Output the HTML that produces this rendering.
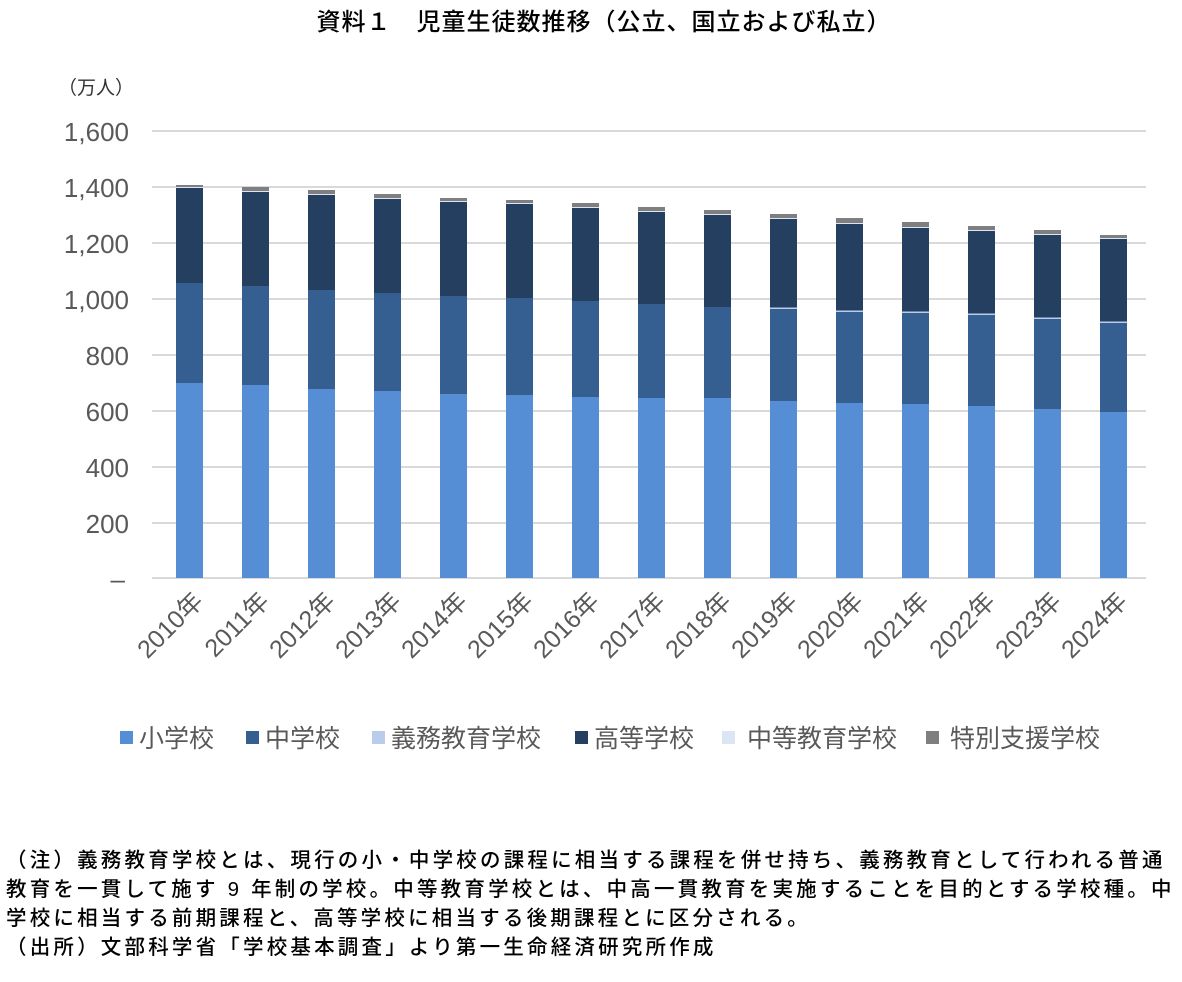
<!DOCTYPE html><html><head><meta charset="utf-8"><style>
body{margin:0;background:#fff;width:1182px;height:982px;overflow:hidden;font-family:"Liberation Sans","Noto Sans CJK JP",sans-serif}
.note{position:absolute;left:6px;top:846px;font-size:20.5px;line-height:29px;color:#000;white-space:nowrap;font-weight:500;letter-spacing:3.2px}
</style></head><body>
<svg width="1182" height="982" style="position:absolute;left:0;top:0" font-family="Liberation Sans, Noto Sans CJK JP, sans-serif">
<text x="604" y="30" text-anchor="middle" font-size="24" font-weight="500" fill="#000" letter-spacing="1">資料１　児童生徒数推移（公立、国立および私立）</text>
<text x="58" y="94" font-size="19" fill="#333">（万人）</text>
<g stroke="#d9d9d9" stroke-width="2">
<line x1="152" x2="1146" y1="131" y2="131"/><line x1="152" x2="1146" y1="187" y2="187"/><line x1="152" x2="1146" y1="243" y2="243"/><line x1="152" x2="1146" y1="299" y2="299"/><line x1="152" x2="1146" y1="355" y2="355"/><line x1="152" x2="1146" y1="411" y2="411"/><line x1="152" x2="1146" y1="467" y2="467"/><line x1="152" x2="1146" y1="523" y2="523"/><line x1="152" x2="1146" y1="578" y2="578"/>
</g>
<g font-size="26" fill="#595959" text-anchor="end">
<text x="129" y="141">1,600</text><text x="129" y="197">1,400</text><text x="129" y="253">1,200</text><text x="129" y="309">1,000</text><text x="129" y="365">800</text><text x="129" y="421">600</text><text x="129" y="477">400</text><text x="129" y="533">200</text><text x="125" y="588">–</text>
</g>
<g id="bars"></g>
<g id="xl" font-size="25" fill="#595959"></g>
<g font-size="25" fill="#595959">
<rect x="120" y="731" width="13" height="13" fill="#558ed5"/><text x="139" y="747">小学校</text>
<rect x="246" y="731" width="13" height="13" fill="#355f91"/><text x="265" y="747">中学校</text>
<rect x="372" y="731" width="13" height="13" fill="#b9cdea"/><text x="391" y="747">義務教育学校</text>
<rect x="575" y="731" width="13" height="13" fill="#243f60"/><text x="594" y="747">高等学校</text>
<rect x="722" y="731" width="13" height="13" fill="#dbe5f4"/><text x="747" y="747">中等教育学校</text>
<rect x="926" y="731" width="13" height="13" fill="#7f7f7f"/><text x="950" y="747">特別支援学校</text>
</g>
</svg>
<div class="note">（注）義務教育学校とは、現行の小・中学校の課程に相当する課程を併せ持ち、義務教育として行われる普通<br>教育を一貫して施す 9 年制の学校。中等教育学校とは、中高一貫教育を実施することを目的とする学校種。中<br>学校に相当する前期課程と、高等学校に相当する後期課程とに区分される。<br>（出所）文部科学省「学校基本調査」より第一生命経済研究所作成</div>
<script>
var d=[[383,283,188,185],[385,286,192,187],[389,290,195,190],[391,293,199,194],[394,296,202,198],[395,298,204,200],[397,301,208,203],[398,304,212,207],[398,307,215,210],[401,309,219,214],[403,312,224,218],[404,313,228,222],[406,315,231,226],[409,319,235,230],[412,323,239,235]];
var s='',t='';
d.forEach(function(v,i){var x=176+66*i;
s+='<rect x="'+x+'" y="'+v[0]+'" width="27" height="'+(578-v[0])+'" fill="#558ed5"/>';
s+='<rect x="'+x+'" y="'+v[1]+'" width="27" height="'+(v[0]-v[1])+'" fill="#355f91"/>';
if(i>=9)s+='<rect x="'+x+'" y="'+(v[1]-1.5)+'" width="27" height="1.5" fill="#b9cdea"/>';
s+='<rect x="'+x+'" y="'+v[2]+'" width="27" height="'+(v[1]-v[2]-(i>=9?1.5:0))+'" fill="#243f60"/>';
s+='<rect x="'+x+'" y="'+(v[2]-1)+'" width="27" height="1" fill="#dbe5f4"/>';
s+='<rect x="'+x+'" y="'+v[3]+'" width="27" height="'+(v[2]-1-v[3])+'" fill="#7f7f7f"/>';
var cx=x+24,cy=598;
t+='<text transform="translate('+cx+','+cy+') rotate(-45)" text-anchor="end" dominant-baseline="middle">'+(2010+i)+'年</text>';});
document.getElementById('bars').innerHTML=s;document.getElementById('xl').innerHTML=t;
</script>
</body></html>
